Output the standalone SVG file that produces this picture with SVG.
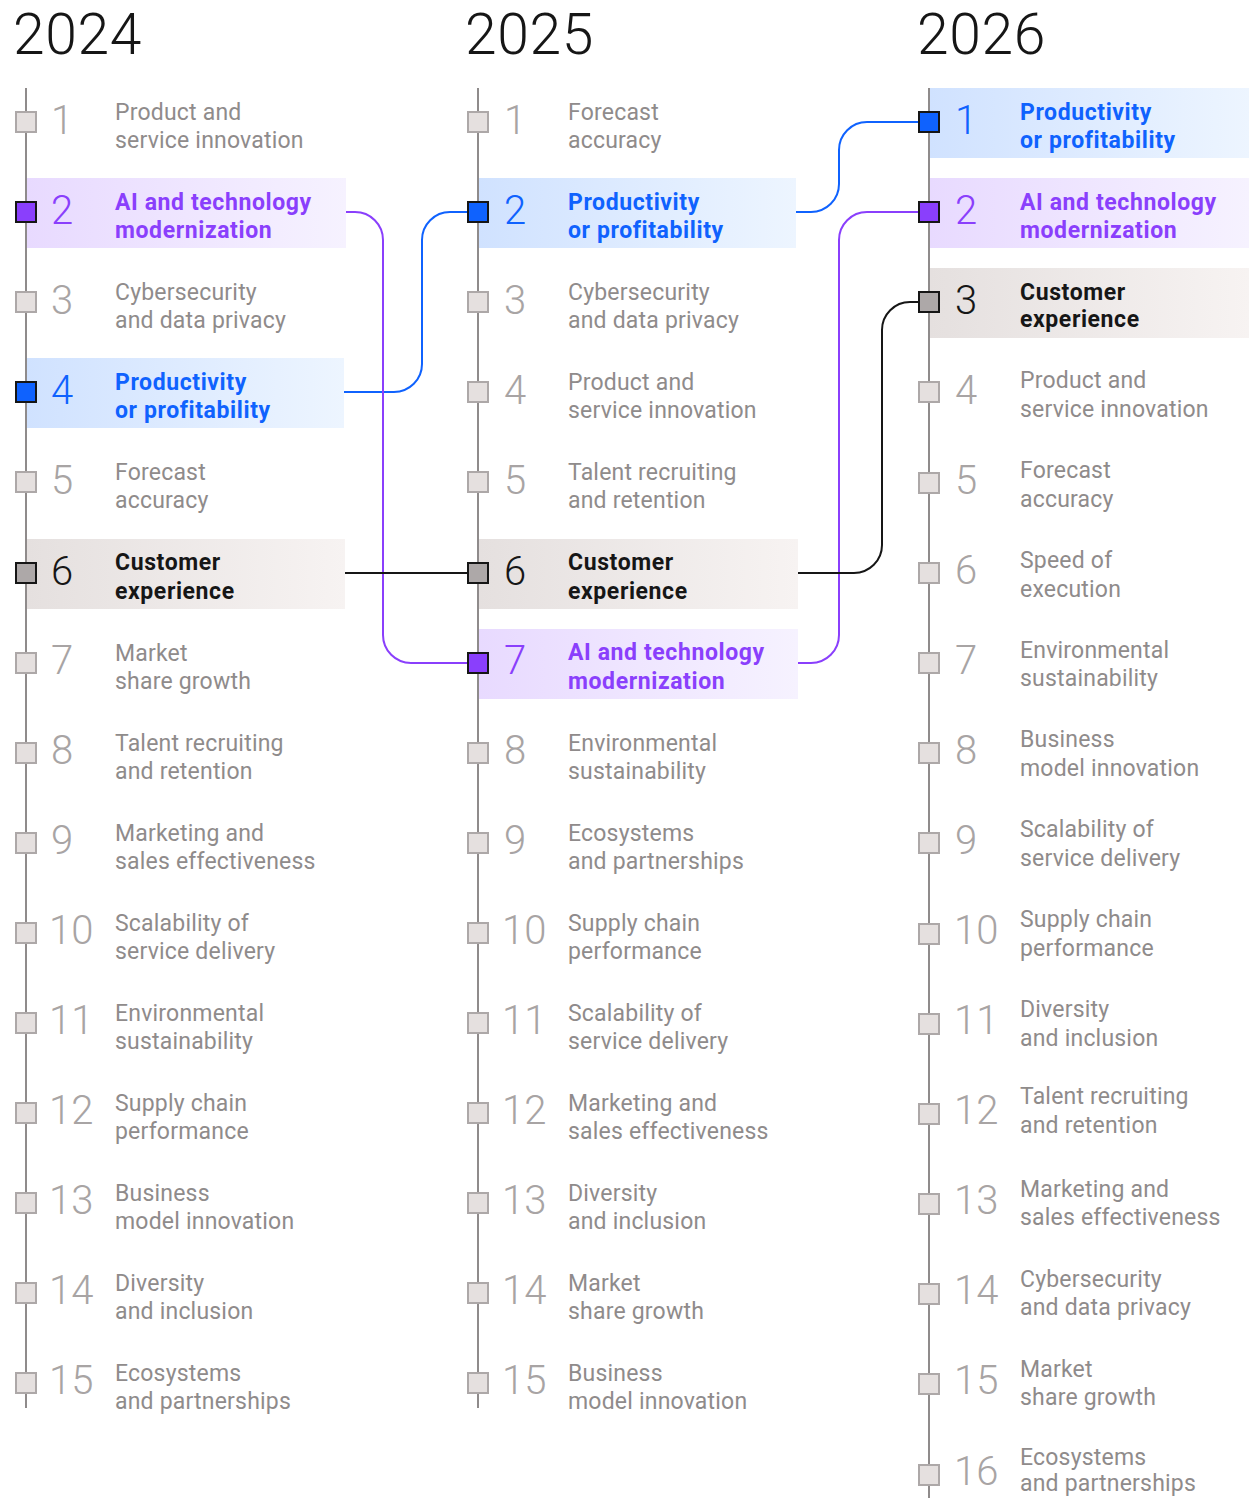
<svg xmlns="http://www.w3.org/2000/svg" width="1252" height="1498" viewBox="0 0 1252 1498">
<style>
.yr{font-family:Roboto,"Liberation Sans",sans-serif;font-size:57px;font-weight:300;letter-spacing:0.6px;fill:#161616}
.ax{stroke:#8f8b8b;stroke-width:2}
.sq{fill:#e5e0df;stroke:#ada8a8;stroke-width:2}
.sqb{fill:#0f62fe;stroke:#161616;stroke-width:2}
.sqp{fill:#8a3ffc;stroke:#161616;stroke-width:2}
.sqg{fill:#ada8a8;stroke:#161616;stroke-width:2}
.num{font-family:Roboto,"Liberation Sans",sans-serif;font-size:40px;font-weight:300;fill:#a8a4a4}
.lb{font-family:Roboto,"Liberation Sans",sans-serif;font-size:23px;letter-spacing:0.2px;fill:#8f8b8b}
.hb{font-family:Roboto,"Liberation Sans",sans-serif;font-size:23px;font-weight:700;letter-spacing:0.6px}
.cb{fill:#0f62fe}.cp{fill:#8a3ffc}.ck{fill:#161616}
.conn{fill:none;stroke-width:2}
</style>
<defs>
<linearGradient id="gb" x1="0" x2="1" y1="0" y2="0"><stop offset="0" stop-color="#d0e2ff"/><stop offset="1" stop-color="#edf5ff"/></linearGradient>
<linearGradient id="gp" x1="0" x2="1" y1="0" y2="0"><stop offset="0" stop-color="#e8daff"/><stop offset="1" stop-color="#f6f2ff"/></linearGradient>
<linearGradient id="gg" x1="0" x2="1" y1="0" y2="0"><stop offset="0" stop-color="#e5e0df"/><stop offset="1" stop-color="#f7f3f2"/></linearGradient>
</defs>
<rect width="1252" height="1498" fill="#ffffff"/>
<g id="years">
<text class="yr" x="13" y="54">2024</text>
<text class="yr" x="465" y="54">2025</text>
<text class="yr" x="917" y="54">2026</text>
</g>
<g id="axes">
<line class="ax" x1="26" y1="88" x2="26" y2="1408"/>
<line class="ax" x1="478" y1="88" x2="478" y2="1408"/>
<line class="ax" x1="929" y1="88" x2="929" y2="1498"/>
</g>
<g id="highlights">
<rect x="27" y="178" width="319" height="70" fill="url(#gp)"/>
<rect x="27" y="358" width="317" height="70" fill="url(#gb)"/>
<rect x="27" y="539" width="318" height="70" fill="url(#gg)"/>
<rect x="479" y="178" width="317" height="70" fill="url(#gb)"/>
<rect x="479" y="539" width="319" height="70" fill="url(#gg)"/>
<rect x="479" y="629" width="319" height="70" fill="url(#gp)"/>
<rect x="930" y="88" width="319" height="70" fill="url(#gb)"/>
<rect x="930" y="178" width="319" height="70" fill="url(#gp)"/>
<rect x="930" y="268" width="319" height="70" fill="url(#gg)"/>
</g>
<g id="connectors">
<path class="conn" stroke="#0f62fe" d="M344,392 H394 A28,28 0 0 0 422,364 V240 A28,28 0 0 1 450,212 H468"/>
<path class="conn" stroke="#8a3ffc" d="M346,212 H355 A28,28 0 0 1 383,240 V635 A28,28 0 0 0 411,663 H468"/>
<path class="conn" stroke="#161616" d="M345,573 H468"/>
<path class="conn" stroke="#0f62fe" d="M796,212 H811 A28,28 0 0 0 839,184 V150 A28,28 0 0 1 867,122 H919"/>
<path class="conn" stroke="#8a3ffc" d="M798,663 H811 A28,28 0 0 0 839,635 V240 A28,28 0 0 1 867,212 H919"/>
<path class="conn" stroke="#161616" d="M798,573 H854 A28,28 0 0 0 882,545 V330 A28,28 0 0 1 910,302 H919"/>
</g>
<!-- 2024 -->
<g id="c1r1"><rect class="sq" x="16" y="112" width="20" height="20"/><text class="num" x="51" y="134">1</text><text class="lb" x="115" y="120">Product and</text><text class="lb" x="115" y="148">service innovation</text></g>
<g id="c1r2"><rect class="sqp" x="16" y="202" width="20" height="20"/><text class="num cp" x="51" y="224">2</text><text class="hb cp" x="115" y="210">AI and technology</text><text class="hb cp" x="115" y="238">modernization</text></g>
<g id="c1r3"><rect class="sq" x="16" y="292" width="20" height="20"/><text class="num" x="51" y="314">3</text><text class="lb" x="115" y="300">Cybersecurity</text><text class="lb" x="115" y="328">and data privacy</text></g>
<g id="c1r4"><rect class="sqb" x="16" y="382" width="20" height="20"/><text class="num cb" x="51" y="404">4</text><text class="hb cb" x="115" y="390">Productivity</text><text class="hb cb" x="115" y="418">or profitability</text></g>
<g id="c1r5"><rect class="sq" x="16" y="472" width="20" height="20"/><text class="num" x="51" y="494">5</text><text class="lb" x="115" y="480">Forecast</text><text class="lb" x="115" y="508">accuracy</text></g>
<g id="c1r6"><rect class="sqg" x="16" y="563" width="20" height="20"/><text class="num ck" x="51" y="585">6</text><text class="hb ck" x="115" y="570">Customer</text><text class="hb ck" x="115" y="599">experience</text></g>
<g id="c1r7"><rect class="sq" x="16" y="653" width="20" height="20"/><text class="num" x="51" y="674">7</text><text class="lb" x="115" y="661">Market</text><text class="lb" x="115" y="689">share growth</text></g>
<g id="c1r8"><rect class="sq" x="16" y="743" width="20" height="20"/><text class="num" x="51" y="764">8</text><text class="lb" x="115" y="751">Talent recruiting</text><text class="lb" x="115" y="779">and retention</text></g>
<g id="c1r9"><rect class="sq" x="16" y="833" width="20" height="20"/><text class="num" x="51" y="854">9</text><text class="lb" x="115" y="841">Marketing and</text><text class="lb" x="115" y="869">sales effectiveness</text></g>
<g id="c1r10"><rect class="sq" x="16" y="923" width="20" height="20"/><text class="num" x="49" y="944">10</text><text class="lb" x="115" y="931">Scalability of</text><text class="lb" x="115" y="959">service delivery</text></g>
<g id="c1r11"><rect class="sq" x="16" y="1013" width="20" height="20"/><text class="num" x="49" y="1034">11</text><text class="lb" x="115" y="1021">Environmental</text><text class="lb" x="115" y="1049">sustainability</text></g>
<g id="c1r12"><rect class="sq" x="16" y="1103" width="20" height="20"/><text class="num" x="49" y="1124">12</text><text class="lb" x="115" y="1111">Supply chain</text><text class="lb" x="115" y="1139">performance</text></g>
<g id="c1r13"><rect class="sq" x="16" y="1193" width="20" height="20"/><text class="num" x="49" y="1214">13</text><text class="lb" x="115" y="1201">Business</text><text class="lb" x="115" y="1229">model innovation</text></g>
<g id="c1r14"><rect class="sq" x="16" y="1283" width="20" height="20"/><text class="num" x="49" y="1304">14</text><text class="lb" x="115" y="1291">Diversity</text><text class="lb" x="115" y="1319">and inclusion</text></g>
<g id="c1r15"><rect class="sq" x="16" y="1373" width="20" height="20"/><text class="num" x="49" y="1394">15</text><text class="lb" x="115" y="1381">Ecosystems</text><text class="lb" x="115" y="1409">and partnerships</text></g>
<!-- 2025 -->
<g id="c2r1"><rect class="sq" x="468" y="112" width="20" height="20"/><text class="num" x="504" y="134">1</text><text class="lb" x="568" y="120">Forecast</text><text class="lb" x="568" y="148">accuracy</text></g>
<g id="c2r2"><rect class="sqb" x="468" y="202" width="20" height="20"/><text class="num cb" x="504" y="224">2</text><text class="hb cb" x="568" y="210">Productivity</text><text class="hb cb" x="568" y="238">or profitability</text></g>
<g id="c2r3"><rect class="sq" x="468" y="292" width="20" height="20"/><text class="num" x="504" y="314">3</text><text class="lb" x="568" y="300">Cybersecurity</text><text class="lb" x="568" y="328">and data privacy</text></g>
<g id="c2r4"><rect class="sq" x="468" y="382" width="20" height="20"/><text class="num" x="504" y="404">4</text><text class="lb" x="568" y="390">Product and</text><text class="lb" x="568" y="418">service innovation</text></g>
<g id="c2r5"><rect class="sq" x="468" y="472" width="20" height="20"/><text class="num" x="504" y="494">5</text><text class="lb" x="568" y="480">Talent recruiting</text><text class="lb" x="568" y="508">and retention</text></g>
<g id="c2r6"><rect class="sqg" x="468" y="563" width="20" height="20"/><text class="num ck" x="504" y="585">6</text><text class="hb ck" x="568" y="570">Customer</text><text class="hb ck" x="568" y="599">experience</text></g>
<g id="c2r7"><rect class="sqp" x="468" y="653" width="20" height="20"/><text class="num cp" x="504" y="674">7</text><text class="hb cp" x="568" y="660">AI and technology</text><text class="hb cp" x="568" y="689">modernization</text></g>
<g id="c2r8"><rect class="sq" x="468" y="743" width="20" height="20"/><text class="num" x="504" y="764">8</text><text class="lb" x="568" y="751">Environmental</text><text class="lb" x="568" y="779">sustainability</text></g>
<g id="c2r9"><rect class="sq" x="468" y="833" width="20" height="20"/><text class="num" x="504" y="854">9</text><text class="lb" x="568" y="841">Ecosystems</text><text class="lb" x="568" y="869">and partnerships</text></g>
<g id="c2r10"><rect class="sq" x="468" y="923" width="20" height="20"/><text class="num" x="502" y="944">10</text><text class="lb" x="568" y="931">Supply chain</text><text class="lb" x="568" y="959">performance</text></g>
<g id="c2r11"><rect class="sq" x="468" y="1013" width="20" height="20"/><text class="num" x="502" y="1034">11</text><text class="lb" x="568" y="1021">Scalability of</text><text class="lb" x="568" y="1049">service delivery</text></g>
<g id="c2r12"><rect class="sq" x="468" y="1103" width="20" height="20"/><text class="num" x="502" y="1124">12</text><text class="lb" x="568" y="1111">Marketing and</text><text class="lb" x="568" y="1139">sales effectiveness</text></g>
<g id="c2r13"><rect class="sq" x="468" y="1193" width="20" height="20"/><text class="num" x="502" y="1214">13</text><text class="lb" x="568" y="1201">Diversity</text><text class="lb" x="568" y="1229">and inclusion</text></g>
<g id="c2r14"><rect class="sq" x="468" y="1283" width="20" height="20"/><text class="num" x="502" y="1304">14</text><text class="lb" x="568" y="1291">Market</text><text class="lb" x="568" y="1319">share growth</text></g>
<g id="c2r15"><rect class="sq" x="468" y="1373" width="20" height="20"/><text class="num" x="502" y="1394">15</text><text class="lb" x="568" y="1381">Business</text><text class="lb" x="568" y="1409">model innovation</text></g>
<!-- 2026 -->
<g id="c3r1"><rect class="sqb" x="919" y="112" width="20" height="20"/><text class="num cb" x="955" y="134">1</text><text class="hb cb" x="1020" y="120">Productivity</text><text class="hb cb" x="1020" y="148">or profitability</text></g>
<g id="c3r2"><rect class="sqp" x="919" y="202" width="20" height="20"/><text class="num cp" x="955" y="224">2</text><text class="hb cp" x="1020" y="210">AI and technology</text><text class="hb cp" x="1020" y="238">modernization</text></g>
<g id="c3r3"><rect class="sqg" x="919" y="292" width="20" height="20"/><text class="num ck" x="955" y="314">3</text><text class="hb ck" x="1020" y="300">Customer</text><text class="hb ck" x="1020" y="327">experience</text></g>
<g id="c3r4"><rect class="sq" x="919" y="382" width="20" height="20"/><text class="num" x="955" y="404">4</text><text class="lb" x="1020" y="388">Product and</text><text class="lb" x="1020" y="417">service innovation</text></g>
<g id="c3r5"><rect class="sq" x="919" y="473" width="20" height="20"/><text class="num" x="955" y="494">5</text><text class="lb" x="1020" y="478">Forecast</text><text class="lb" x="1020" y="507">accuracy</text></g>
<g id="c3r6"><rect class="sq" x="919" y="563" width="20" height="20"/><text class="num" x="955" y="584">6</text><text class="lb" x="1020" y="568">Speed of</text><text class="lb" x="1020" y="597">execution</text></g>
<g id="c3r7"><rect class="sq" x="919" y="653" width="20" height="20"/><text class="num" x="955" y="674">7</text><text class="lb" x="1020" y="658">Environmental</text><text class="lb" x="1020" y="686">sustainability</text></g>
<g id="c3r8"><rect class="sq" x="919" y="743" width="20" height="20"/><text class="num" x="955" y="764">8</text><text class="lb" x="1020" y="747">Business</text><text class="lb" x="1020" y="776">model innovation</text></g>
<g id="c3r9"><rect class="sq" x="919" y="833" width="20" height="20"/><text class="num" x="955" y="854">9</text><text class="lb" x="1020" y="837">Scalability of</text><text class="lb" x="1020" y="866">service delivery</text></g>
<g id="c3r10"><rect class="sq" x="919" y="924" width="20" height="20"/><text class="num" x="954" y="944">10</text><text class="lb" x="1020" y="927">Supply chain</text><text class="lb" x="1020" y="956">performance</text></g>
<g id="c3r11"><rect class="sq" x="919" y="1014" width="20" height="20"/><text class="num" x="954" y="1034">11</text><text class="lb" x="1020" y="1017">Diversity</text><text class="lb" x="1020" y="1046">and inclusion</text></g>
<g id="c3r12"><rect class="sq" x="919" y="1104" width="20" height="20"/><text class="num" x="954" y="1124">12</text><text class="lb" x="1020" y="1104">Talent recruiting</text><text class="lb" x="1020" y="1133">and retention</text></g>
<g id="c3r13"><rect class="sq" x="919" y="1194" width="20" height="20"/><text class="num" x="954" y="1214">13</text><text class="lb" x="1020" y="1197">Marketing and</text><text class="lb" x="1020" y="1225">sales effectiveness</text></g>
<g id="c3r14"><rect class="sq" x="919" y="1284" width="20" height="20"/><text class="num" x="954" y="1304">14</text><text class="lb" x="1020" y="1287">Cybersecurity</text><text class="lb" x="1020" y="1315">and data privacy</text></g>
<g id="c3r15"><rect class="sq" x="919" y="1374" width="20" height="20"/><text class="num" x="954" y="1394">15</text><text class="lb" x="1020" y="1377">Market</text><text class="lb" x="1020" y="1405">share growth</text></g>
<g id="c3r16"><rect class="sq" x="919" y="1465" width="20" height="20"/><text class="num" x="954" y="1485">16</text><text class="lb" x="1020" y="1465">Ecosystems</text><text class="lb" x="1020" y="1491">and partnerships</text></g>
</svg>
